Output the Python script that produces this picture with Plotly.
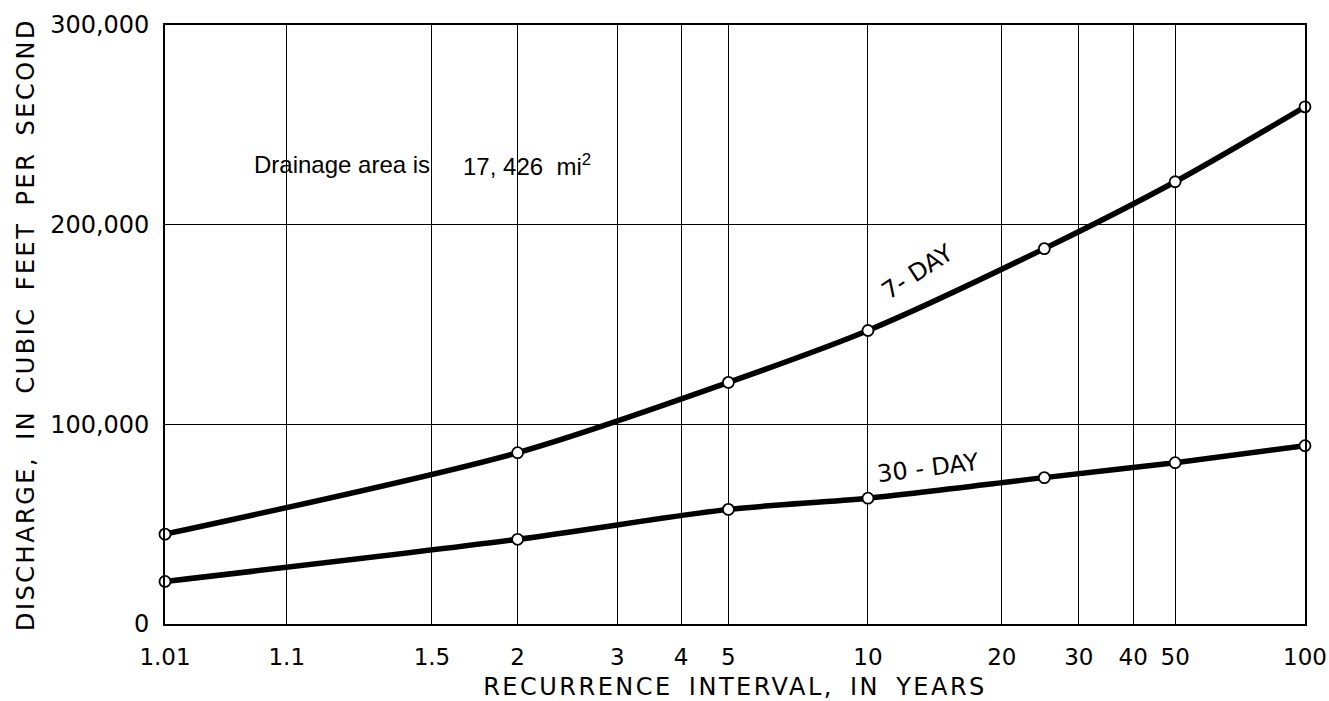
import numpy as np
import plotly.graph_objects as go

# Recurrence intervals (years) and flood-volume discharges (cfs)
recurrence = [1.01, 2, 5, 10, 25, 50, 100]
q_7day = [45000, 85800, 121000, 147000, 188000, 221500, 259000]
q_30day = [21300, 42400, 57400, 63000, 73300, 80800, 89300]

tick_years = [1.01, 1.1, 1.5, 2, 3, 4, 5, 10, 20, 30, 40, 50, 100]
tick_text = ["1.01", "1.1", "1.5", "2", "3", "4", "5", "10", "20", "30", "40", "50", "100"]
y_ticks = [0, 100000, 200000, 300000]
y_text = ["0", "100,000", "200,000", "300,000"]


def gumbel(T):
    """Extreme-value (Gumbel) reduced variate for a recurrence interval."""
    T = np.asarray(T, dtype=float)
    return -np.log(-np.log(1.0 - 1.0 / T))


FONT = "DejaVu Sans"
NOTE_FONT = "Liberation Sans Narrow, Liberation Sans"
x_lo, x_hi = float(gumbel(1.01)), float(gumbel(100))

fig = go.Figure()
for q in (q_7day, q_30day):
    fig.add_trace(go.Scatter(
        x=gumbel(recurrence), y=q,
        mode="lines+markers",
        line=dict(color="black", width=5.5, shape="spline", smoothing=0.8),
        marker=dict(symbol="circle", size=11, color="white",
                    line=dict(color="black", width=1.8)),
        cliponaxis=False, showlegend=False, hoverinfo="skip",
    ))

annotations = [
    dict(x=-1.063, y=229900, text="Drainage area is", xanchor="left", yanchor="middle",
         showarrow=False, font=dict(family=NOTE_FONT, size=24, color="black")),
    dict(x=0.062, y=229900, text="17, 426\u00a0\u00a0mi<sup>2</sup>", xanchor="left",
         yanchor="middle", showarrow=False,
         font=dict(family=NOTE_FONT, size=24, color="black")),
    dict(x=2.516, y=176300, text="7- DAY", textangle=-33, showarrow=False,
         font=dict(family=FONT, size=24, color="black")),
    dict(x=2.575, y=78100, text="30 - DAY", textangle=-7, showarrow=False,
         font=dict(family=FONT, size=24, color="black")),
]

fig.update_layout(
    width=1329, height=701,
    margin=dict(l=165, r=24, t=25, b=77),
    plot_bgcolor="white", paper_bgcolor="white",
    font=dict(family=FONT, size=24, color="black"),
    annotations=annotations,
    xaxis=dict(
        range=[x_lo, x_hi],
        tickvals=gumbel(tick_years), ticktext=tick_text,
        showgrid=True, gridcolor="black", gridwidth=1.3,
        showline=True, mirror=True, linecolor="black", linewidth=1.6,
        zeroline=False, ticks="", ticklabelstandoff=12,
        ticklabeloverflow="allow", automargin=False,
        tickfont=dict(size=23),
        title=dict(text="RECURRENCE INTERVAL, IN YEARS", font=dict(size=24), standoff=14),
    ),
    yaxis=dict(
        range=[0, 300000],
        tickvals=y_ticks, ticktext=y_text,
        showgrid=True, gridcolor="black", gridwidth=1.3,
        showline=True, mirror=True, linecolor="black", linewidth=1.6,
        zeroline=False, ticks="", ticklabelstandoff=9, automargin=False,
        tickfont=dict(size=24),
        title=dict(text="DISCHARGE, IN CUBIC FEET PER SECOND", font=dict(size=24), standoff=9),
    ),
)

# Open up the lettering of the axis titles
spacing_js = (
    "document.querySelectorAll('.xtitle, .ytitle').forEach(function(t){"
    "t.style.letterSpacing='2.5px'; t.style.wordSpacing='6px';});"
)
fig.write_html("out.html", post_script=spacing_js)
